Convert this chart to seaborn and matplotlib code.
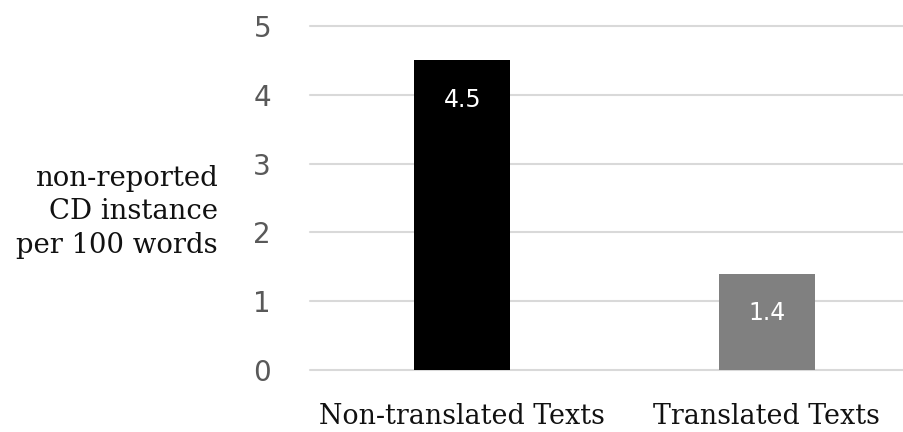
import matplotlib
matplotlib.use("Agg")
import matplotlib.pyplot as plt
import seaborn as sns
import pandas as pd

categories = ["Non-translated Texts", "Translated Texts"]
values = [4.5, 1.4]
value_labels = ["4.5", "1.4"]
bar_colors = ["#000000", "#808080"]
y_ticks = [0, 1, 2, 3, 4, 5]
y_label = "non-reported\nCD instance\nper 100 words"

sns.set_theme(style="white")
plt.rcParams["font.family"] = ["DejaVu Sans"]

df = pd.DataFrame({"group": categories, "rate": values})

fig = plt.figure(figsize=(9.04, 4.32), dpi=100)
ax = fig.add_axes([310 / 904, 1 - 370 / 432, 1 - 310 / 904, (370 - 26) / 432])

sns.barplot(data=df, x="group", y="rate", hue="group", palette=bar_colors,
            width=0.315, legend=False, ax=ax, saturation=1, linewidth=0)

ax.set_xlim(-0.5, 1.451)
ax.set_ylim(0, 5)
ax.set_yticks(y_ticks)
ax.set_yticklabels([str(t) for t in y_ticks], fontsize=20, color="#595959")
ax.tick_params(axis="y", length=0, pad=28)
ax.tick_params(axis="x", length=0, pad=24)
ax.set_xticks(range(len(categories)))
ax.set_xticklabels(categories, fontsize=19.4, family="DejaVu Serif", color="#111111")
ax.set_xlabel("")
ax.set_ylabel("")

ax.yaxis.grid(True, color="#d9d9d9", linewidth=1.5)
for gl in ax.get_ygridlines():
    gl.set_clip_on(False)
ax.set_axisbelow(True)
for s in ax.spines.values():
    s.set_visible(False)

for i, (v, lab) in enumerate(zip(values, value_labels)):
    ax.annotate(lab, xy=(i, v), xytext=(0, -20), textcoords="offset points",
                ha="center", va="top", color="white", fontsize=17)

fig.text(218 / 904, 1 - 212 / 432, y_label, ha="right", va="center",
         fontsize=19.8, family="DejaVu Serif", color="#111111", linespacing=1.32)

fig.savefig("out.png", dpi=100)
